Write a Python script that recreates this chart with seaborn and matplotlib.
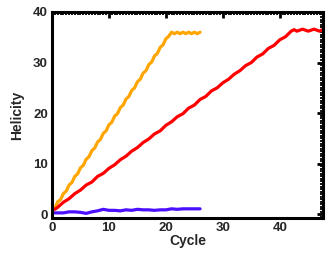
import numpy as np
import pandas as pd
import matplotlib
matplotlib.use("Agg")
import matplotlib.pyplot as plt
from matplotlib.ticker import MultipleLocator
import seaborn as sns

# orange run (fast growth, saturates ~36)
orange_x = [0.5, 1.0, 1.5, 2.0, 2.5, 3.0, 3.5, 4.0, 4.5, 5.0, 5.5, 6.0, 6.5, 7.0, 7.5, 8.0,
            8.5, 9.0, 9.5, 10.0, 10.5, 11.0, 11.5, 12.0, 12.5, 13.0, 13.5, 14.0, 14.5, 15.0,
            15.5, 16.0, 16.5, 17.0, 17.5, 18.0, 18.5, 19.0, 19.5, 20.0, 20.5, 21.0, 21.5,
            22.0, 22.5, 23.0, 23.5, 24.0, 24.5, 25.0, 25.5, 26.0]
orange_y = [1.2, 2.5, 2.9, 4.1, 4.6, 5.8, 6.3, 7.5, 8.0, 9.2, 9.7, 10.9, 11.4, 12.6, 13.1,
            14.3, 14.8, 16.0, 16.5, 17.7, 18.2, 19.4, 19.9, 21.1, 21.6, 22.8, 23.3, 24.5,
            25.0, 26.2, 26.7, 27.9, 28.4, 29.6, 30.1, 31.3, 31.8, 33.0, 33.5, 34.7, 35.2,
            36.0, 35.7, 36.0, 35.7, 36.0, 35.7, 36.0, 35.7, 36.0, 35.7, 36.0]

# red run (slow growth, saturates ~36.5)
red_x = [0.5, 1, 2, 3, 4, 5, 6, 7, 8, 9, 10, 11, 12, 13, 14, 15, 16, 17, 18, 19, 20, 21,
         22, 23, 24, 25, 26, 27, 28, 29, 30, 31, 32, 33, 34, 35, 36, 37, 38, 39, 40, 41,
         42, 42.5, 43, 44, 45, 46, 47, 47.5]
red_y = [1.0, 1.4, 2.4, 3.1, 4.1, 4.8, 5.8, 6.4, 7.5, 8.1, 9.1, 9.8, 10.8, 11.5, 12.5,
         13.2, 14.2, 14.9, 15.9, 16.5, 17.6, 18.3, 19.3, 19.9, 21.0, 21.6, 22.7, 23.3,
         24.4, 25.0, 26.0, 26.7, 27.7, 28.4, 29.4, 30.0, 31.1, 31.7, 32.8, 33.4, 34.5,
         35.1, 36.2, 36.5, 36.2, 36.6, 36.2, 36.6, 36.2, 36.5]

# blue run (stays near zero)
blue_x = [0.5, 2, 3, 4, 5, 6, 7, 8, 9, 10, 11, 12, 13, 14, 15, 16, 17, 18, 19, 20, 21,
          22, 23, 24, 25, 26]
blue_y = [0.3, 0.3, 0.5, 0.5, 0.4, 0.2, 0.5, 0.7, 1.0, 0.8, 0.8, 0.7, 0.9, 0.8, 1.0,
          0.9, 0.9, 0.8, 0.9, 0.9, 1.1, 1.0, 1.1, 1.1, 1.1, 1.1]

sns.set_theme(style="white")
plt.rcParams["font.family"] = ["Liberation Sans", "DejaVu Sans"]

fig = plt.figure(figsize=(3.27, 2.54), dpi=100)
ax = fig.add_axes([0.159, 0.142, 0.829, 0.811])

lw = 2.3
sns.lineplot(x=orange_x, y=orange_y, color="#FFA500", lw=lw, ax=ax, sort=False)
sns.lineplot(x=red_x, y=red_y, color="#FF0000", lw=lw, ax=ax, sort=False)
sns.lineplot(x=blue_x, y=blue_y, color="#4B10FF", lw=lw, ax=ax, sort=False)

ax.set_xlim(0, 47.6)
ax.set_ylim(-0.7, 40)
ax.xaxis.set_major_locator(MultipleLocator(10))
ax.yaxis.set_major_locator(MultipleLocator(10))
ax.xaxis.set_minor_locator(MultipleLocator(0.5))
ax.yaxis.set_minor_locator(MultipleLocator(0.5))
ax.tick_params(which="major", direction="in", length=4, width=2, color="black",
               top=True, right=True, labelsize=9.5, pad=3)
ax.tick_params(which="minor", direction="in", length=2, width=1.3, color="black",
               top=True, right=True)
for lab in ax.get_xticklabels() + ax.get_yticklabels():
    lab.set_fontweight("bold")
for sp in ax.spines.values():
    sp.set_linewidth(2.2)
    sp.set_color("black")

ax.set_xlabel("Cycle", fontsize=10, fontweight="bold", labelpad=0)
ax.set_ylabel("Helicity", fontsize=10, fontweight="bold", labelpad=6)

fig.savefig("out.png", dpi=100)
